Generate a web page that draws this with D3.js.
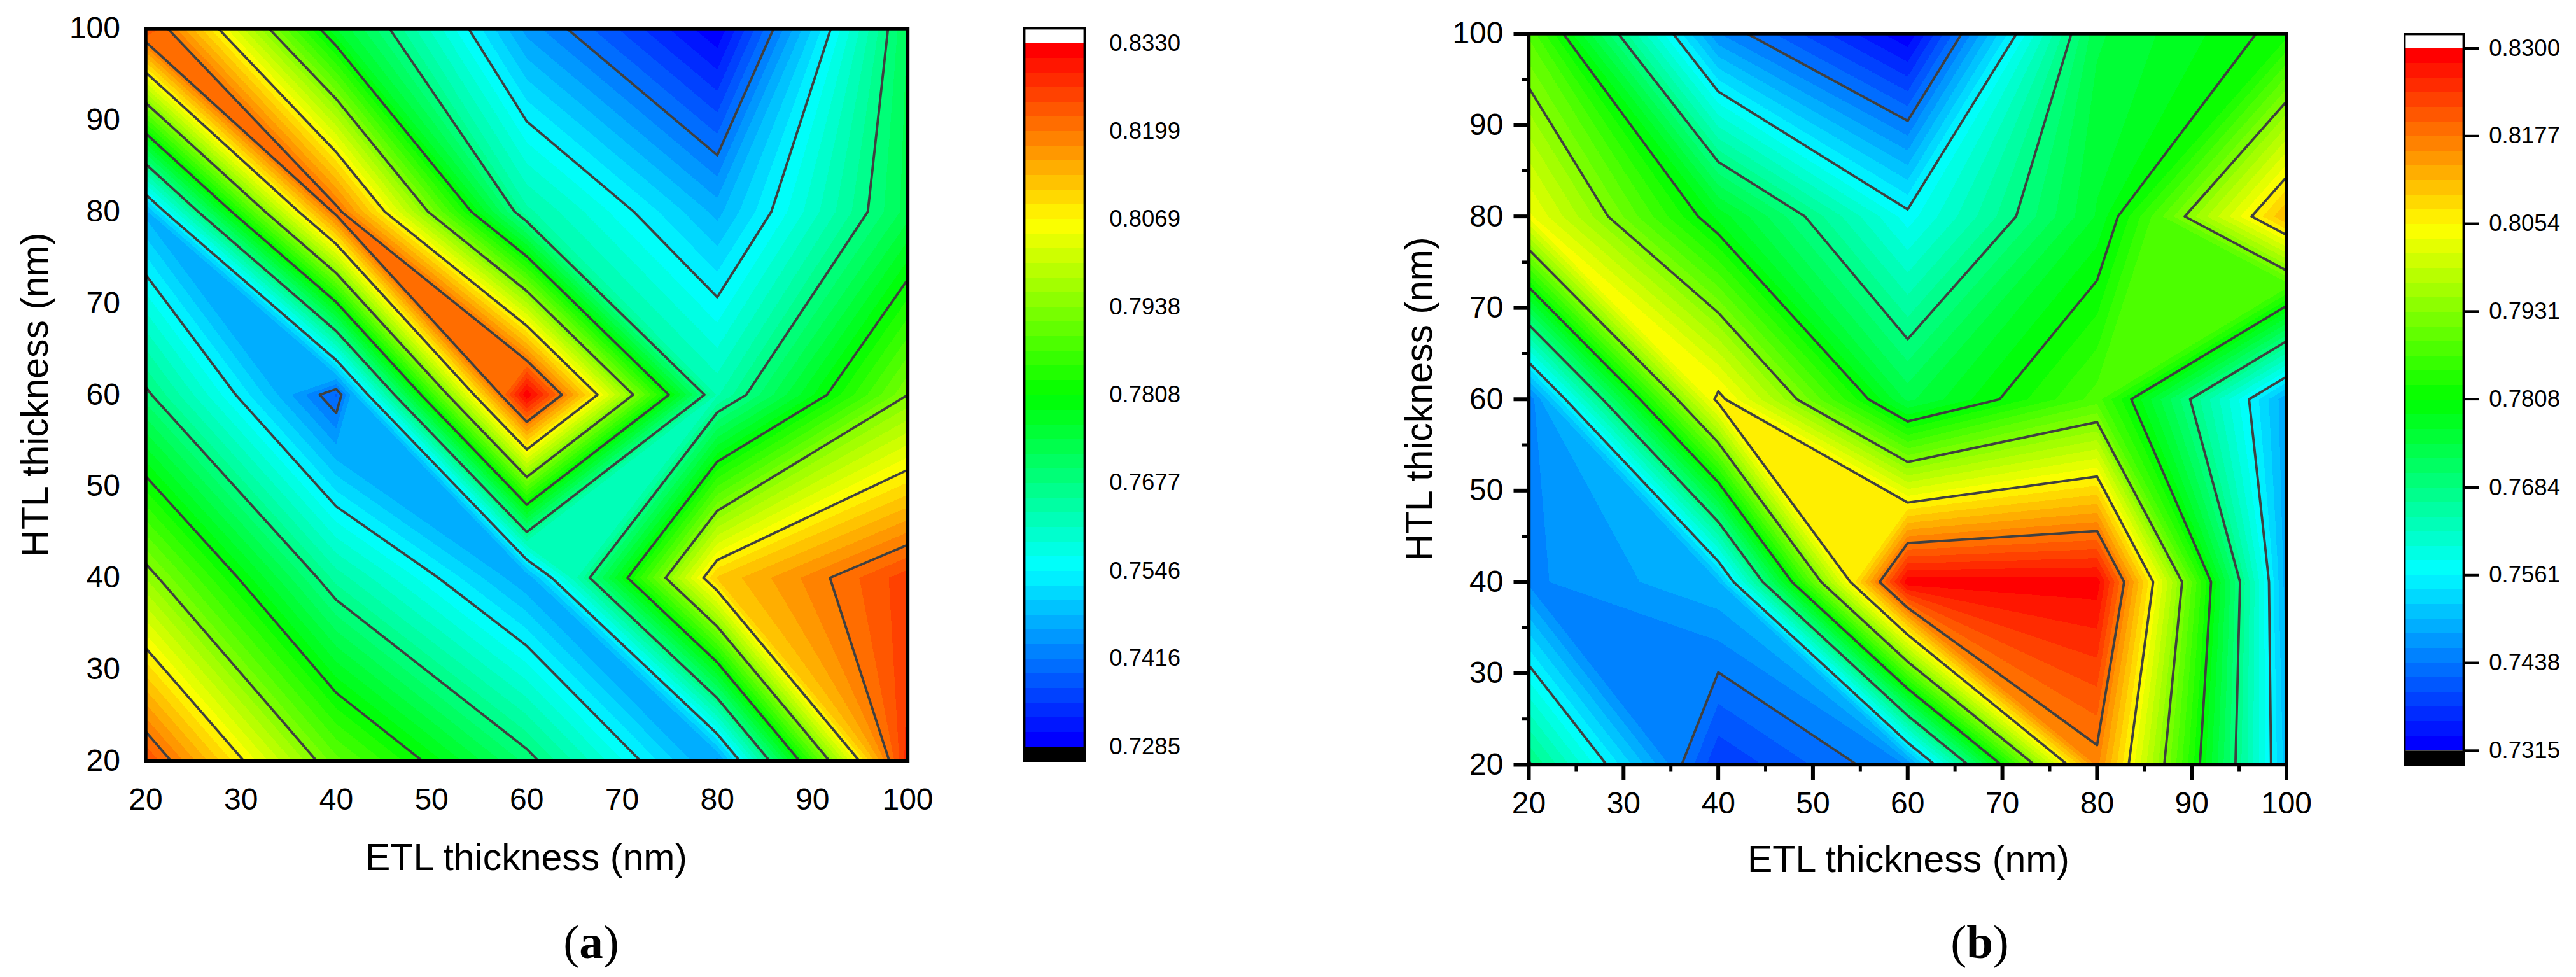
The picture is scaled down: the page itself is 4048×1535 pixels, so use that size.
<!DOCTYPE html>
<html>
<head>
<meta charset="utf-8">
<script src="https://cdn.jsdelivr.net/npm/d3@7"></script>
<style>
    html, body { margin: 0; padding: 0; background: #fff; }
    text { font-family: "Liberation Sans", Arial, sans-serif; fill: #000; }
</style>
</head>
<body>
<div id="container"></div>
<script>
const gridX = [20, 40, 60, 80, 100],
    gridY = [100, 80, 60, 40, 20],
    axisTicks = [20, 30, 40, 50, 60, 70, 80, 90, 100],
    minorTicks = [25, 35, 45, 55, 65, 75, 85, 95];

// rows run from HTL = 100 down to HTL = 20
const valuesA = [
    [0.8256, 0.7765, 0.7450, 0.7287, 0.7722],
    [0.7473, 0.8215, 0.7640, 0.7473, 0.7731],
    [0.7686, 0.7390, 0.8328, 0.7630, 0.7938],
    [0.7959, 0.7646, 0.7460, 0.8116, 0.8257],
    [0.8245, 0.7903, 0.7692, 0.7448, 0.8280]
];
const valuesB = [
    [0.7885, 0.7460, 0.7317, 0.7742, 0.7820],
    [0.8039, 0.7780, 0.7571, 0.7769, 0.8118],
    [0.7441, 0.8066, 0.7740, 0.7879, 0.7483],
    [0.7454, 0.7497, 0.8295, 0.8292, 0.7487],
    [0.7689, 0.7378, 0.7460, 0.8163, 0.7508]
];

const colorTicksA = ['0.7285', '0.7416', '0.7546', '0.7677', '0.7808', '0.7938', '0.8069', '0.8199', '0.8330'],
    colorTicksB = ['0.7315', '0.7438', '0.7561', '0.7684', '0.7808', '0.7931', '0.8054', '0.8177', '0.8300'];

// saddle cells where the top right and bottom left corners join up, [col, row]
const flippedA = [[2, 2]],
    flippedB = [[3, 1]];

const BANDS = 48,
    LINE_EVERY = 6;

const rainbow = d3.scaleLinear()
    .domain([0, 1, 2, 3, 4])
    .range(['#0000ff', '#00ffff', '#00ff00', '#ffff00', '#ff0000']);

const svg = d3.select('#container').append('svg')
    .attr('width', 4048)
    .attr('height', 1535)
    .style('display', 'block');

// walks one grid cell, gives the part of it >= level and the contour segments
function cellParts(corners, level, flipped) {
    let pts = [], crossings = [];
    corners.forEach((c, i) => {
        let n = corners[(i + 1) % 4];
        if(c.z >= level) pts.push({x: c.x, y: c.y, i: i});
        if((c.z >= level) !== (n.z >= level)) {
            let t = (level - c.z) / (n.z - c.z),
                p = {x: c.x + (n.x - c.x) * t, y: c.y + (n.y - c.y) * t, e: i};
            pts.push(p);
            crossings.push(p);
        }
    });

    if(crossings.length < 4) {
        return {polys: pts.length ? [pts] : [], segs: crossings.length ? [crossings] : []};
    }

    // saddle: corners 0 (top left) and 2 (bottom right) are on the same side
    let highOnMain = corners[0].z >= level,
        joinHigh = flipped ? !highOnMain : highOnMain,
        e = k => crossings.find(c => c.e === k);

    if(joinHigh) {
        // the two high corners stay in one piece
        let segs = highOnMain ? [[e(0), e(1)], [e(2), e(3)]] : [[e(1), e(2)], [e(3), e(0)]];
        return {polys: [pts], segs: segs};
    }
    let a = highOnMain ? [corners[0], e(0), e(3)] : [corners[1], e(1), e(0)],
        b = highOnMain ? [corners[2], e(2), e(1)] : [corners[3], e(3), e(2)];
    return {polys: [a, b], segs: [[a[1], a[2]], [b[1], b[2]]]};
}

function contourLayer(values, flipped, level) {
    let polys = [], segs = [];
    for(let r = 0; r < gridY.length - 1; r++) {
        for(let c = 0; c < gridX.length - 1; c++) {
            let corners = [
                {x: gridX[c], y: gridY[r], z: values[r][c]},
                {x: gridX[c + 1], y: gridY[r], z: values[r][c + 1]},
                {x: gridX[c + 1], y: gridY[r + 1], z: values[r + 1][c + 1]},
                {x: gridX[c], y: gridY[r + 1], z: values[r + 1][c]}
            ];
            let isFlipped = flipped.some(f => f[0] === c && f[1] === r),
                parts = cellParts(corners, level, isFlipped);
            polys.push(...parts.polys);
            segs.push(...parts.segs);
        }
    }
    return {polys: polys, segs: segs};
}

function drawPanel(cfg) {
    let g = svg.append('g'),
        x = d3.scaleLinear().domain([20, 100]).range(cfg.xRange),
        y = d3.scaleLinear().domain([20, 100]).range(cfg.yRange),
        zMin = +cfg.colorTicks[0],
        zMax = +cfg.colorTicks[cfg.colorTicks.length - 1],
        step = (zMax - zMin) / BANDS,
        line = d3.line().x(d => x(d.x)).y(d => y(d.y)),
        bandColor = k => rainbow(k / (BANDS - 1) * 4);

    // filled bands, each one painted over the one below
    g.append('rect')
        .attr('x', cfg.xRange[0]).attr('y', cfg.yRange[1])
        .attr('width', cfg.xRange[1] - cfg.xRange[0])
        .attr('height', cfg.yRange[0] - cfg.yRange[1])
        .attr('fill', bandColor(0));

    d3.range(BANDS).forEach(k => {
        let layer = contourLayer(cfg.values, cfg.flipped, zMin + k * step);
        g.append('path')
            .attr('d', layer.polys.map(p => line(p) + 'Z').join(''))
            .attr('fill', bandColor(k))
            .attr('shape-rendering', 'crispEdges');
    });

    // contour lines on the labelled levels
    d3.range(LINE_EVERY, BANDS, LINE_EVERY).forEach(k => {
        let layer = contourLayer(cfg.values, cfg.flipped, zMin + k * step);
        g.append('path')
            .attr('d', layer.segs.map(s => line(s)).join(''))
            .attr('fill', 'none')
            .attr('stroke', '#404040')
            .attr('stroke-width', 3.8)
            .attr('stroke-linecap', 'round');
    });

    g.append('rect')
        .attr('x', cfg.xRange[0]).attr('y', cfg.yRange[1])
        .attr('width', cfg.xRange[1] - cfg.xRange[0])
        .attr('height', cfg.yRange[0] - cfg.yRange[1])
        .attr('fill', 'none')
        .attr('stroke', '#000')
        .attr('stroke-width', 5.4);

    // axes
    let bottom = cfg.yRange[0], left = cfg.xRange[0];

    function styleAxis(sel, width) {
        sel.select('.domain').remove();
        sel.selectAll('line').attr('stroke', '#000').attr('stroke-width', width);
        sel.selectAll('text').style('font-size', '48px');
    }

    g.append('g')
        .attr('transform', 'translate(0,' + bottom + ')')
        .call(d3.axisBottom(x).tickValues(axisTicks).tickFormat(d3.format('d'))
            .offset(0).tickSize(cfg.majorTick).tickPadding(42.5 - cfg.majorTick))
        .call(styleAxis, 6);

    g.append('g')
        .attr('transform', 'translate(' + left + ',0)')
        .call(d3.axisLeft(y).tickValues(axisTicks).tickFormat(d3.format('d'))
            .offset(0).tickSize(cfg.majorTick).tickPadding(40 - cfg.majorTick))
        .call(styleAxis, 6);

    if(cfg.minorTick) {
        g.append('g')
            .attr('transform', 'translate(0,' + bottom + ')')
            .call(d3.axisBottom(x).tickValues(minorTicks).tickFormat('').offset(0).tickSize(cfg.minorTick))
            .call(styleAxis, 5);
        g.append('g')
            .attr('transform', 'translate(' + left + ',0)')
            .call(d3.axisLeft(y).tickValues(minorTicks).tickFormat('').offset(0).tickSize(cfg.minorTick))
            .call(styleAxis, 5);
    }

    g.append('text')
        .attr('x', cfg.xLabel[0]).attr('y', cfg.xLabel[1])
        .attr('text-anchor', 'middle')
        .style('font-size', '59px')
        .text('ETL thickness (nm)');

    g.append('text')
        .attr('transform', 'translate(' + cfg.yLabel[0] + ',' + cfg.yLabel[1] + ') rotate(-90)')
        .attr('text-anchor', 'middle')
        .style('font-size', '59px')
        .text('HTL thickness (nm)');

    let caption = g.append('text')
        .attr('x', cfg.caption[0]).attr('y', cfg.caption[1])
        .attr('text-anchor', 'middle')
        .style('font-family', '"Liberation Serif", "Times New Roman", serif')
        .style('font-size', '75px');
    caption.append('tspan').text('(');
    caption.append('tspan').style('font-weight', 'bold').text(cfg.letter);
    caption.append('tspan').text(')');

    // colour bar
    let bar = cfg.bar,
        c = d3.scaleLinear().domain([zMin, zMax]).range([bar.zBottom, bar.zTop]),
        barWidth = bar.x1 - bar.x0;

    g.append('rect')
        .attr('x', bar.x0).attr('y', bar.zBottom)
        .attr('width', barWidth).attr('height', bar.y1 - bar.zBottom)
        .attr('fill', '#000');

    g.selectAll('rect.band')
        .data(d3.range(BANDS))
        .enter()
        .append('rect')
        .attr('class', 'band')
        .attr('x', bar.x0)
        .attr('y', k => c(zMin + (k + 1) * step))
        .attr('width', barWidth)
        .attr('height', k => c(zMin + k * step) - c(zMin + (k + 1) * step))
        .attr('fill', k => bandColor(k))
        .attr('shape-rendering', 'crispEdges');

    g.append('rect')
        .attr('x', bar.x0).attr('y', bar.y0)
        .attr('width', barWidth).attr('height', bar.y1 - bar.y0)
        .attr('fill', 'none')
        .attr('stroke', '#000')
        .attr('stroke-width', 3.4);

    g.append('g')
        .attr('transform', 'translate(' + bar.x1 + ',0)')
        .call(d3.axisRight(c).tickValues(cfg.colorTicks.map(Number)).tickFormat(d3.format('.4f'))
            .offset(0).tickSize(bar.tick).tickPadding(bar.labelGap - bar.tick))
        .call(sel => {
            sel.select('.domain').remove();
            sel.selectAll('line').attr('stroke', '#000').attr('stroke-width', 4);
            sel.selectAll('text').style('font-size', '36.5px');
        });
}

drawPanel({
    values: valuesA,
    flipped: flippedA,
    colorTicks: colorTicksA,
    xRange: [229, 1426.5],
    yRange: [1195.5, 45],
    majorTick: 0,
    minorTick: 0,
    xLabel: [827, 1367],
    yLabel: [75, 620],
    caption: [929, 1505],
    letter: 'a',
    bar: {x0: 1609.7, x1: 1704.3, y0: 44.7, y1: 1195.3, zBottom: 1173, zTop: 68, tick: 0, labelGap: 39}
});

drawPanel({
    values: valuesB,
    flipped: flippedB,
    colorTicks: colorTicksB,
    xRange: [2402.5, 3593],
    yRange: [1201.5, 53],
    majorTick: 24,
    minorTick: 11,
    xLabel: [2999, 1370],
    yLabel: [2250, 627],
    caption: [3111, 1505],
    letter: 'b',
    bar: {x0: 3778.7, x1: 3871.3, y0: 53.7, y1: 1201.3, zBottom: 1179.3, zTop: 76, tick: 24, labelGap: 40}
});
</script>
</body>
</html>
